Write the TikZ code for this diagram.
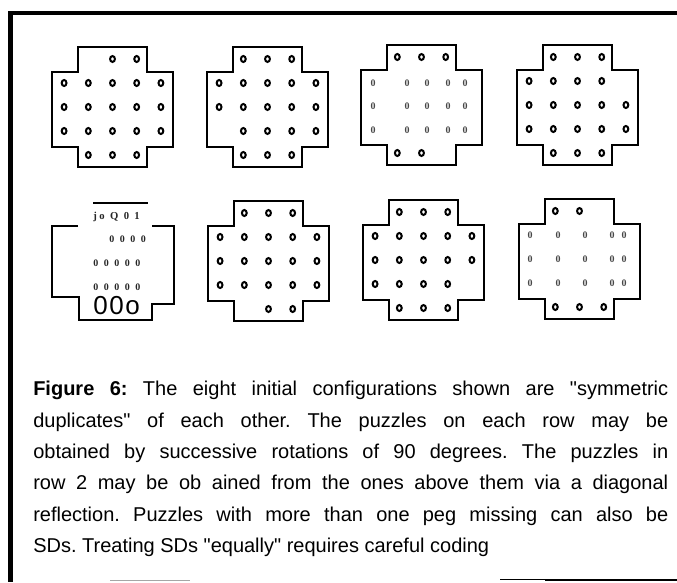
\documentclass[tikz,border=0pt]{standalone}
\usepackage{fontspec}
\setmainfont{Liberation Sans}
\newfontfamily\capfont{Liberation Sans}
\newfontfamily\pegserif[LetterSpace=55]{Liberation Serif}
\newfontfamily\zeroserif{Liberation Serif}
\usepackage{tikz}
\usetikzlibrary{positioning}

%% one cross-shaped board: x, y of its top left corner, and rows/columns with pegs
\newcommand{\pegboard}[3]{%
  \begin{scope}[shift={(#1,#2)}]
    \draw[boardline] (0,25) -| (26,0) -| (95,25) -| (121,100) -| (95,120) -| (26,100) -| (0,100) -- cycle;
    \foreach \j/\cols in {#3}
      \foreach \i in \cols
        \draw[peg] ({(\i-0.5)*24.2},{(\j-0.5)*24}) ellipse (2.4 and 3.0);
  \end{scope}}

\begin{document}
\begin{tikzpicture}[
  x=0.75pt, y=-0.75pt,
  boardline/.style={line width=1pt, black},
  peg/.style={line width=1.5pt, black},
  frame/.style={line width=#1, black},
  zero/.style={font=\zeroserif\bfseries\fontsize{7.5pt}{8pt}\selectfont, text=black!72, inner sep=0pt},
  typed/.style={font=\pegserif\bfseries\fontsize{7.5pt}{8pt}\selectfont, text=black!85, inner sep=0pt, anchor=base west},
  caption/.style={text width=476.25pt, align=justify, inner sep=0pt,
                  font=\capfont\frenchspacing\fontsize{15pt}{23.55pt}\selectfont}
]
  \useasboundingbox (0,0) rectangle (677,582);

  %% Frame
  \draw[frame=3pt] (8,13) -- (677,13);
  \draw[frame=3.75pt] (10,11) -- (10,582);
  \draw[frame=0.6pt, black!35] (110,580) -- (190,580);
  \draw[frame=0.6pt] (500,579) -- (545,579);
  \draw[frame=1.6pt] (545,580) -- (677,580);

  %% Row 1
  \pegboard{52}{47}{1/{3,4}, 2/{1,2,3,4,5}, 3/{1,2,3,4,5}, 4/{1,2,3,4,5}, 5/{2,3,4}}
  \pegboard{207}{47}{1/{2,3,4}, 2/{1,2,3,4,5}, 3/{1,2,3,4,5}, 4/{2,3,4,5}, 5/{2,3,4}}
  \pegboard{361}{45}{1/{2,3,4}, 5/{2,3}}
  \foreach \x in {373,407,427,448,465}
    \foreach \y in {83,106,130}
      \node[zero] (bc-\x-\y) at (\x,\y) {0};
  \pegboard{517}{45}{1/{2,3,4}, 2/{1,2,3,4}, 3/{1,2,3,4,5}, 4/{1,2,3,4,5}, 5/{2,3,4}}

  %% Row 2
  \draw[boardline, line width=1.2pt] (93,203) -- (148,203);
  \draw[boardline] (78,226) -- (52,226) -- (52,297) -- (79,297) -- (79,320)
    -- (152,320) -- (152,304) -- (174,304) -- (174,226) -- (152,226);
  \node[typed, font=\zeroserif\bfseries\fontsize{8pt}{8pt}\selectfont\addfontfeature{LetterSpace=25}]
    (btop) at (93,219) {jo Q 0 1};
  \node[typed] (brow2) at (109,242) {0000};
  \node[typed] (brow3) at (93,266) {00000};
  \node[typed] (brow4) at (93,290) {00000};
  \node[inner sep=0pt, anchor=base west, font=\capfont\fontsize{19.5pt}{20pt}\selectfont\addfontfeature{LetterSpace=6}]
    (bbot) at (93,314) {00o};

  \pegboard{208}{201}{1/{2,3,4}, 2/{1,2,3,4,5}, 3/{1,2,3,4,5}, 4/{1,2,3,4,5}, 5/{3,4}}
  \pegboard{363}{200}{1/{2,3,4}, 2/{1,2,3,4,5}, 3/{1,2,3,4,5}, 4/{1,2,3,4}, 5/{2,3,4}}
  \pegboard{519}{199}{1/{2,3}, 5/{2,3,4}}
  \foreach \x in {530,558,585,612,624}
    \foreach \y in {235,259,283}
      \node[zero] (bh-\x-\y) at (\x,\y) {0};

  %% Caption
  \node[caption, anchor=north west] (cap) at (33,381)
    {\textbf{Figure 6:} The eight initial configurations shown are "symmetric \linebreak
     duplicates" of each other. The puzzles on each row may be \linebreak
     obtained by successive rotations of 90 degrees. The puzzles in \linebreak
     row 2 may be ob ained from the ones above them via a diagonal \linebreak
     reflection. Puzzles with more than one peg missing can also be \linebreak
     SDs. Treating SDs "equally" requires careful coding};
\end{tikzpicture}
\end{document}
